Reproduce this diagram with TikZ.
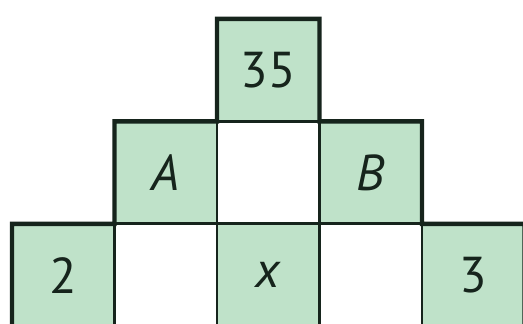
\documentclass[tikz,border=0pt]{standalone}
\usepackage{fontspec}
\setmainfont{PT Sans}
\definecolor{cellgreen}{RGB}{191,226,201}
\definecolor{inkdark}{RGB}{22,36,28}
\tikzset{
  cell/.style={draw=inkdark, line width=0.8pt, minimum size=1cm, inner sep=0pt, outer sep=0pt,
    font=\fontsize{14}{16}\selectfont, text=inkdark},
  shaded/.style={cell, fill=cellgreen}
}

\begin{document}
\begin{tikzpicture}
    \clip (-0.117,0.03) rectangle (4.985,3.184);
    % --- TOP ROW ---
    \node[shaded] (top) at (2.5,2.5) {35};

    % --- MIDDLE ROW ---
    \node[shaded] (midA) at (1.5,1.5) {\textit{A}};
    \node[cell]   (midC) at (2.5,1.5) {};
    \node[shaded] (midB) at (3.5,1.5) {\textit{B}};

    % --- BOTTOM ROW ---
    \node[shaded] (bot1) at (0.5,0.5) {2};
    \node[cell]   (bot2) at (1.5,0.5) {};
    \node[shaded] (bot3) at (2.5,0.5) {\textit{x}};
    \node[cell]   (bot4) at (3.5,0.5) {};
    \node[shaded] (bot5) at (4.5,0.5) {3};

    % Outer border
    \draw[line width=1.2pt, inkdark, line join=miter]
      (bot1.south west) -- (bot1.north west) -- (midA.south west) -- (midA.north west)
      -- (top.south west) -- (top.north west) -- (top.north east) -- (midB.north west)
      -- (midB.north east) -- (bot5.north west) -- (bot5.north east) -- (bot5.south east);
\end{tikzpicture}
\end{document}
